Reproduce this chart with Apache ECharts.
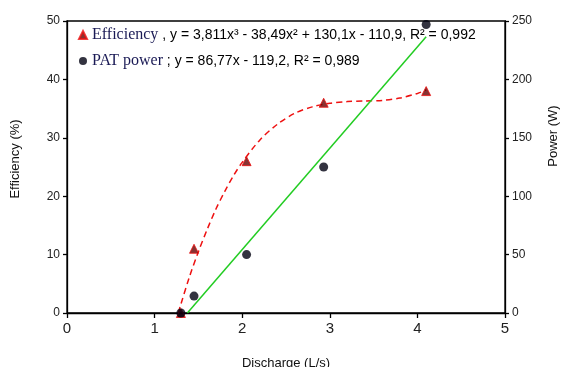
<!DOCTYPE html>
<html>
<head>
<meta charset="utf-8">
<script src="https://cdn.jsdelivr.net/npm/echarts@6/dist/echarts.min.js"></script>
<style>html,body{margin:0;padding:0;background:#fff}#c{width:562px;height:367px}</style>
</head>
<body>
<div id="c"></div>
<script>
// Measured points
const discharge = [1.3, 1.45, 2.05, 2.93, 4.1];
const efficiency = [0, 11, 26, 36, 38];
const patPower = [0, 14.5, 50, 125, 247];
// Trend curve of efficiency
const effTrendX = [1.27, 1.3, 1.4, 1.5, 1.6, 1.7, 1.8, 1.9, 2.0, 2.2, 2.4, 2.6, 2.8, 3.0, 3.2, 3.4, 3.6, 3.8, 4.0, 4.1];
const effTrendY = [0, 1.5, 6.3, 10.5, 14.3, 17.8, 20.8, 23.5, 25.8, 29.6, 32.3, 34.2, 35.3, 35.9, 36.2, 36.3, 36.4, 36.8, 37.6, 38.2];
// Linear trend of power (end points of the green line)
const powTrendX = [1.374, 4.1];
const powTrendY = [0, 236.6];
// Axis ticks
const xTicks = [0, 1, 2, 3, 4, 5];
const effTicks = [0, 10, 20, 30, 40, 50];
const powTicks = [0, 50, 100, 150, 200, 250];

const zip = (a, b) => a.map((v, i) => [v, b[i]]);
const chart = echarts.init(document.getElementById('c'));
const axisLine = {show: true, lineStyle: {color: '#000', width: 1.3}};
chart.setOption({
  animation: false,
  grid: {left: 67, right: 57, top: 21, bottom: 54, show: true, borderColor: '#000', borderWidth: 1.3},
  legend: {
    orient: 'vertical', left: 73, top: 22, itemGap: 10, itemWidth: 8, itemHeight: 8,
    data: [{name: 'Efficiency', icon: 'triangle'}, {name: 'PAT power', icon: 'circle'}],
    formatter: function (n) {
      if (n === 'Efficiency') return '{n|Efficiency}{e| , y = 3,811x³ - 38,49x² + 130,1x - 110,9, R² = 0,992}';
      return '{n|PAT power}{e| ; y = 86,77x - 119,2, R² = 0,989}';
    },
    textStyle: {
      rich: {
        n: {fontFamily: 'Liberation Serif', fontSize: 16, color: '#1a1a55'},
        e: {fontFamily: 'Liberation Sans', fontSize: 14, color: '#000'}
      }
    }
  },
  xAxis: {
    type: 'value', min: xTicks[0], max: xTicks[xTicks.length - 1], interval: 1,
    axisLine: axisLine, splitLine: {show: false},
    axisTick: {show: true, length: 5, lineStyle: {color: '#000', width: 1.3}},
    axisLabel: {fontFamily: 'Liberation Sans', fontSize: 15, color: '#222', margin: 8}
  },
  yAxis: [{
    type: 'value', min: effTicks[0], max: effTicks[effTicks.length - 1], interval: 10,
    axisLine: axisLine, splitLine: {show: false},
    axisTick: {show: true, length: 4, lineStyle: {color: '#000', width: 1.3}},
    axisLabel: {fontFamily: 'Liberation Sans', fontSize: 12, color: '#222', margin: 7}
  }, {
    type: 'value', min: powTicks[0], max: powTicks[powTicks.length - 1], interval: 50,
    position: 'right',
    axisLine: axisLine, splitLine: {show: false},
    axisTick: {show: true, length: 4, lineStyle: {color: '#000', width: 1.3}},
    axisLabel: {fontFamily: 'Liberation Sans', fontSize: 12, color: '#222', margin: 7}
  }],
  graphic: [
    {type: 'text', x: 15, y: 159, rotation: Math.PI / 2, style: {text: 'Efficiency (%)', font: '13px "Liberation Sans"', fill: '#111', align: 'center', verticalAlign: 'middle'}},
    {type: 'text', x: 553, y: 136, rotation: Math.PI / 2, style: {text: 'Power (W)', font: '13px "Liberation Sans"', fill: '#111', align: 'center', verticalAlign: 'middle'}},
    {type: 'text', x: 286, y: 363, style: {text: 'Discharge (L/s)', font: '13px "Liberation Sans"', fill: '#111', align: 'center', verticalAlign: 'middle'}}
  ],
  series: [
    {name: 'EffTrend', type: 'line', yAxisIndex: 0, data: zip(effTrendX, effTrendY), smooth: 0.3,
      showSymbol: false, symbol: 'none', lineStyle: {color: '#ee1111', width: 1.5, type: [6, 4]}, z: 2, silent: true},
    {name: 'PowTrend', type: 'line', yAxisIndex: 1, data: zip(powTrendX, powTrendY),
      showSymbol: false, symbol: 'none', lineStyle: {color: '#22cc22', width: 1.5}, z: 2, silent: true},
    {name: 'Efficiency', type: 'scatter', yAxisIndex: 0, data: zip(discharge, efficiency), symbol: 'triangle', symbolSize: 9,
      itemStyle: {color: '#6a0000', borderColor: '#ee1111', borderWidth: 1}, z: 4},
    {name: 'PAT power', type: 'scatter', yAxisIndex: 1, data: zip(discharge, patPower), symbol: 'circle', symbolSize: 9,
      itemStyle: {color: '#000010'}, z: 5}
  ]
});
</script>
</body>
</html>
